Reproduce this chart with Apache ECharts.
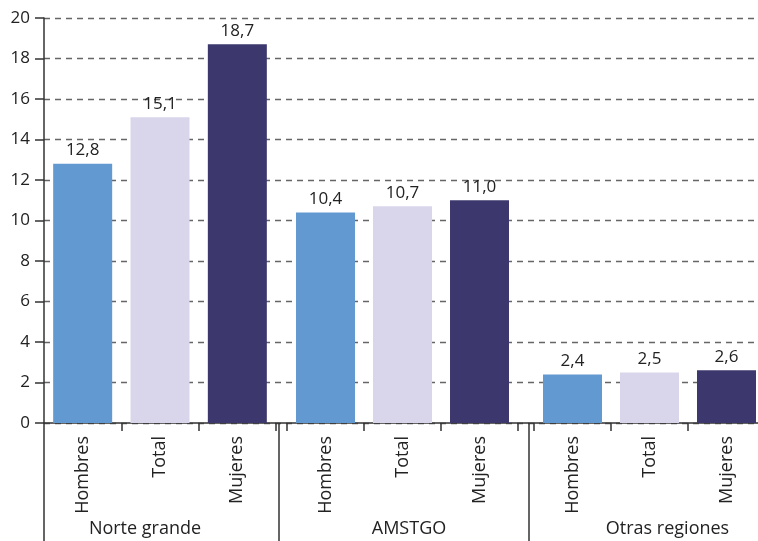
<!DOCTYPE html>
<html>
<head>
<meta charset="utf-8">
<script src="https://cdn.jsdelivr.net/npm/echarts@6/dist/echarts.min.js"></script>
<style>
  html, body { margin: 0; padding: 0; background: #fff; }
  #chart { width: 758px; height: 541px; }
</style>
</head>
<body>
<div id="chart"></div>
<script>
// datos
const categorias = ['Hombres', 'Total', 'Mujeres']
const regiones = ['Norte grande', 'AMSTGO', 'Otras regiones']
const norteGrande = [12.8, 15.1, 18.7]
const amstgo = [10.4, 10.7, 11.0]
const otrasRegiones = [2.4, 2.5, 2.6]
const yTicks = [0, 20, 2] // min, max, interval

const valores = [norteGrande, amstgo, otrasRegiones]
const colores = ['#6399d1', '#d9d5eb', '#3c386d']
const fuente = 'Open Sans'
const texto = '#222'

const chart = echarts.init(document.getElementById('chart'))

// grid 0 = fondo con eje Y, 1-3 = barras, 4-6 = separadores de región
const grids = [
  { left: 44, right: 0 },
  { left: 44, width: 232 },
  { left: 287, width: 231 },
  { left: 534, width: 231 },
  { left: 44, width: 235 },
  { left: 279, width: 250 },
  { left: 529, width: 241 }
].map(g => Object.assign(g, { top: 18, bottom: 118, outerBoundsMode: 'none' }))
const labelPad = [[0, 33, 0, 0], [0, 0, 0, 10], [0, 0, 0, 36]]

const xAxis = [{
  gridIndex: 0, type: 'category', data: [''],
  axisLine: { lineStyle: { color: '#333', width: 1.5 } },
  axisTick: { show: false }, axisLabel: { show: false }
}]
const yAxis = [{
  gridIndex: 0, type: 'value', min: yTicks[0], max: yTicks[1], interval: yTicks[2],
  axisLine: { show: true, lineStyle: { color: '#333', width: 1.5 } },
  axisTick: { show: true, length: 9, lineStyle: { color: '#333', width: 1.5 } },
  axisLabel: { margin: 14, fontFamily: fuente, fontSize: 17, color: texto },
  splitLine: { lineStyle: { type: [6, 5], color: '#666', width: 1.3 } }
}]
const series = []

valores.forEach((vals, g) => {
  xAxis.push({
    gridIndex: g + 1, type: 'category', data: categorias,
    axisLine: { show: false },
    axisTick: { show: true, length: 8, lineStyle: { color: '#333', width: 1.5 } },
    axisLabel: { rotate: 90, margin: 13, fontFamily: fuente, fontSize: 18, color: texto }
  })
  yAxis.push({ gridIndex: g + 1, type: 'value', min: yTicks[0], max: yTicks[1], show: false })
  series.push({
    type: 'bar', xAxisIndex: g + 1, yAxisIndex: g + 1,
    data: vals, barWidth: 59,
    itemStyle: { color: p => colores[p.dataIndex] },
    label: {
      show: true, position: 'top', distance: 5,
      fontFamily: fuente, fontSize: 17, color: texto,
      formatter: p => p.value.toFixed(1).replace('.', ',')
    }
  })
})

regiones.forEach((r, g) => {
  xAxis.push({
    gridIndex: g + 4, type: 'category', data: [r],
    axisLine: { show: false },
    axisTick: { show: true, length: 120, lineStyle: { color: '#333', width: 1.5 } },
    axisLabel: { margin: 97, padding: labelPad[g], fontFamily: fuente, fontSize: 18, color: texto }
  })
  yAxis.push({ gridIndex: g + 4, type: 'value', min: yTicks[0], max: yTicks[1], show: false })
})

chart.setOption({
  animation: false,
  grid: grids,
  xAxis: xAxis,
  yAxis: yAxis,
  series: series
})
</script>
</body>
</html>
